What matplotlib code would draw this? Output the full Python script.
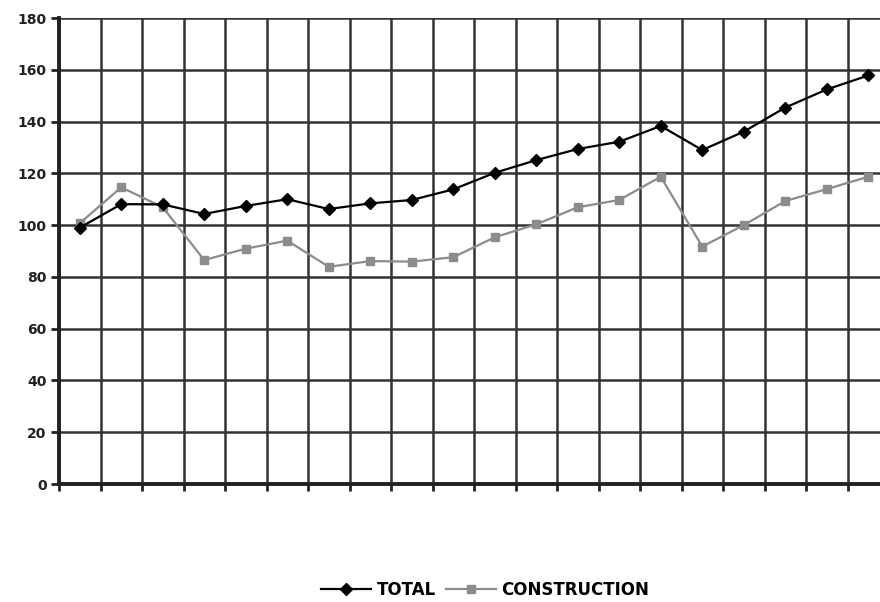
import numpy as np
import matplotlib.pyplot as plt

plt.rcParams['font.family'] = ['DejaVu Sans']

# index series, 20 periods
periods = np.arange(20)
total = [99.0, 108.1, 108.0, 104.3, 107.4, 110.0, 106.2, 108.4, 109.7, 113.8,
         120.2, 125.1, 129.4, 132.2, 138.3, 129.0, 136.1, 145.4, 152.4, 157.8]
construction = [100.7, 114.6, 106.9, 86.5, 90.9, 94.0, 83.9, 86.1, 85.9, 87.6,
                95.3, 100.3, 106.9, 109.7, 118.7, 91.7, 100.0, 109.3, 113.9, 118.7]

fig = plt.figure(figsize=(8.8, 6.02), dpi=100)
ax = fig.add_axes([59 / 880, 118 / 602, 830 / 880, 466 / 602])

ax.plot(periods, total, color='black', lw=1.6, marker='D', ms=6,
        label='TOTAL', zorder=4)
ax.plot(periods, construction, color='#8c8c8c', lw=1.6, marker='s', ms=5.5,
        label='CONSTRUCTION', zorder=3)

ax.set_xlim(-0.5, 19.5)
ax.set_ylim(0, 180)
ax.set_yticks(np.arange(0, 181, 20))
ax.set_xticks(np.arange(-0.5, 20, 1))
ax.set_xticklabels([])

ax.grid(True, color='#333333', lw=1.8, zorder=0)
ax.set_axisbelow(True)

for side in ['top', 'right']:
    ax.spines[side].set_visible(False)
for side in ['left', 'bottom']:
    ax.spines[side].set_linewidth(2.8)
    ax.spines[side].set_color('#222222')

ax.tick_params(axis='y', length=6, width=2, colors='#222222',
               labelsize=10, pad=3)
ax.tick_params(axis='x', length=5, width=2, colors='#222222')
for lbl in ax.get_yticklabels():
    lbl.set_fontweight('bold')

fig.legend(loc='center', bbox_to_anchor=(485 / 880, 1 - 590 / 602), ncol=2,
           frameon=False, handlelength=3.0, columnspacing=0.6,
           handletextpad=0.35, prop={'weight': 'bold', 'size': 12})

fig.savefig('out.png', dpi=100)
